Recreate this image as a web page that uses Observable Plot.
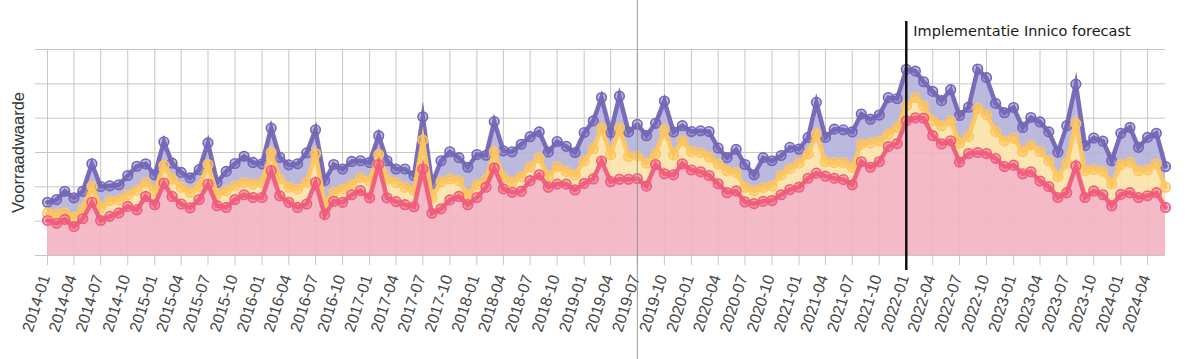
<!DOCTYPE html>
<html><head><meta charset="utf-8">
<script src="https://cdn.jsdelivr.net/npm/d3@7"></script>
<script src="https://cdn.jsdelivr.net/npm/@observablehq/plot@0.6"></script>
<style>body{margin:0;background:#fff;overflow:hidden}</style>
</head><body><div id="chart"></div>
<script>
// monthly series, 2014-01 .. 2024-06 (values in grid units)
const firstMonth = "2014-01";
const totaal = [1.55,1.63,1.87,1.68,1.87,2.67,2.01,2.03,2.06,2.33,2.60,2.67,
2.35,3.31,2.69,2.42,2.26,2.50,3.28,2.13,2.45,2.68,2.89,2.71,
2.67,3.71,2.86,2.64,2.67,2.99,3.66,2.18,2.65,2.52,2.74,2.76,
2.71,3.49,2.76,2.52,2.52,2.33,4.04,2.09,2.76,3.02,2.85,2.57,
2.94,2.92,3.90,3.05,3.02,3.24,3.46,3.60,3.01,3.32,3.18,3.00,
3.58,3.92,4.60,3.58,4.64,3.60,3.82,3.49,3.85,4.50,3.60,3.78,
3.61,3.63,3.61,3.13,2.85,3.09,2.65,2.35,2.85,2.76,2.91,3.15,
3.10,3.44,4.46,3.44,3.68,3.66,3.60,4.12,3.97,4.09,4.60,4.57,
5.42,5.37,5.06,4.78,4.51,4.83,4.08,4.32,5.43,5.18,4.43,4.16,
4.31,3.73,4.02,3.89,3.60,3.01,3.78,4.99,3.20,3.42,3.33,2.76,
3.56,3.73,3.15,3.44,3.56,2.59];
const midden = [1.24,1.21,1.24,1.11,1.36,2.01,1.40,1.60,1.62,1.77,1.91,2.13,
1.89,2.62,2.23,1.99,1.84,2.01,2.65,1.79,1.89,2.03,2.13,2.08,
2.13,3.00,2.23,1.99,1.94,2.13,2.97,1.50,1.84,1.94,2.08,2.27,
2.18,2.94,2.23,2.13,1.99,1.89,3.36,1.69,2.15,2.23,2.18,1.77,
2.06,2.21,3.02,2.28,2.14,2.30,2.59,2.85,2.30,2.59,2.45,2.35,
2.76,3.11,3.72,2.94,3.71,2.88,2.91,2.69,2.96,3.67,2.93,3.35,
3.03,3.00,2.87,2.67,2.47,2.42,1.99,1.89,1.98,2.03,2.35,2.53,
2.69,2.96,3.54,2.73,2.71,2.71,2.57,3.25,3.28,3.34,3.54,3.73,
4.36,4.60,4.36,3.93,3.78,3.93,3.28,3.47,4.29,4.10,3.61,3.34,
3.42,3.03,3.21,3.03,2.76,2.30,2.69,3.84,2.47,2.51,2.46,2.09,
2.65,2.72,2.47,2.50,2.67,1.99];
const basis = [1.02,0.94,1.05,0.84,1.07,1.55,1.02,1.14,1.24,1.43,1.33,1.72,
1.48,2.11,1.72,1.50,1.39,1.63,2.08,1.45,1.40,1.63,1.77,1.69,
1.69,2.47,1.74,1.55,1.40,1.50,2.13,1.19,1.58,1.55,1.77,1.89,
1.68,2.65,1.68,1.57,1.48,1.42,2.52,1.23,1.36,1.62,1.72,1.48,
1.69,1.99,2.55,1.94,1.84,1.87,2.18,2.35,1.99,2.08,2.08,1.91,
2.10,2.23,2.75,2.15,2.22,2.22,2.24,2.02,2.65,2.38,2.35,2.67,
2.49,2.44,2.33,2.09,1.83,1.88,1.56,1.51,1.58,1.60,1.77,1.92,
1.99,2.25,2.40,2.31,2.25,2.21,2.06,2.73,2.57,2.73,3.17,3.26,
3.92,4.01,4.00,3.49,3.25,3.34,2.72,2.97,3.00,2.97,2.83,2.59,
2.63,2.38,2.44,2.17,2.01,1.69,1.83,2.61,1.69,1.88,1.77,1.45,
1.78,1.83,1.69,1.74,1.83,1.40];
const tickLabels = ["2014-01","2014-04","2014-07","2014-10","2015-01","2015-04","2015-07","2015-10",
"2016-01","2016-04","2016-07","2016-10","2017-01","2017-04","2017-07","2017-10",
"2018-01","2018-04","2018-07","2018-10","2019-01","2019-04","2019-07","2019-10",
"2020-01","2020-04","2020-07","2020-10","2021-01","2021-04","2021-07","2021-10",
"2022-01","2022-04","2022-07","2022-10","2023-01","2023-04","2023-07","2023-10",
"2024-01","2024-04"];
const gridValues = [0,1,2,3,4,5,6];
const markerMonth = "2022-01";
const markerLabel = "Implementatie Innico forecast";
const splitMonth = "2019-07";
const yLabel = "Voorraadwaarde";

const parse = d3.utcParse("%Y-%m");
const start = parse(firstMonth);
const rows = totaal.map((t, i) => ({date: d3.utcMonth.offset(start, i), totaal: t, midden: midden[i], basis: basis[i]}));
const tickDates = tickLabels.map(parse);
const labelOf = new Map(tickDates.map((d, i) => [+d, tickLabels[i]]));

const C = {
  pLine: "#7366b7", pFill: "#b4b1da",
  yLine: "#fec55c", yFill: "#fbe2a7",
  rLine: "#ef5c7c", rFill: "#f3b3c1"
};
function series(key, line) {
  return [
    Plot.line(rows, {x: "date", y: key, stroke: line, strokeWidth: 4.5, strokeLinejoin: "miter", strokeMiterlimit: 10, strokeOpacity: 0.95}),
    Plot.dot(rows, {x: "date", y: key, r: 4.8, stroke: line, strokeWidth: 1.6, fill: line, fillOpacity: 0.45})
  ];
}

const chart = Plot.plot({
  width: 1200, height: 359,
  marginLeft: 47, marginRight: 35, marginTop: 49, marginBottom: 104,
  x: {type: "utc", domain: [rows[0].date, rows[rows.length - 1].date], axis: null},
  y: {domain: [0, 6], axis: null},
  style: {fontFamily: "'Liberation Sans', Arial, sans-serif", background: "white", overflow: "visible"},
  marks: [
    Plot.ruleY(gridValues, {stroke: "#c6c6c6", strokeWidth: 1, insetLeft: -12}),
    Plot.ruleX(tickDates, {stroke: "#c6c6c6", strokeWidth: 1, insetBottom: -10}),
    Plot.areaY(rows, {x: "date", y1: "midden", y2: "totaal", fill: C.pFill, fillOpacity: 0.9}),
    Plot.areaY(rows, {x: "date", y1: "basis", y2: "midden", fill: C.yFill, fillOpacity: 0.9}),
    Plot.areaY(rows, {x: "date", y1: 0, y2: "basis", fill: C.rFill, fillOpacity: 0.9}),
    ...series("totaal", C.pLine),
    ...series("midden", C.yLine),
    ...series("basis", C.rLine),
    Plot.ruleX([parse(splitMonth)], {stroke: "#999", strokeWidth: 1, insetTop: -49, insetBottom: -104}),
    Plot.ruleX([parse(markerMonth)], {stroke: "#111", strokeWidth: 2.5, insetTop: -28, insetBottom: -15}),
    Plot.text([parse(markerMonth)], {x: d => d, frameAnchor: "top", text: () => markerLabel, dy: -18, dx: 7,
      textAnchor: "start", lineAnchor: "middle", fontSize: 14.5, fill: "#1a1a1a", fontFamily: "'DejaVu Sans', sans-serif"}),
    Plot.text(tickDates, {x: d => d, frameAnchor: "bottom", text: d => labelOf.get(+d), rotate: -72,
      textAnchor: "end", lineAnchor: "middle", dy: 20, dx: -2, fontSize: 16, fill: "#444"}),
    Plot.text([yLabel], {frameAnchor: "left", text: d => d, rotate: -90, dx: -29, fontSize: 16.5, fill: "#333",
      textAnchor: "middle", lineAnchor: "middle"})
  ]
});
document.getElementById("chart").append(chart);
</script>
</body></html>
